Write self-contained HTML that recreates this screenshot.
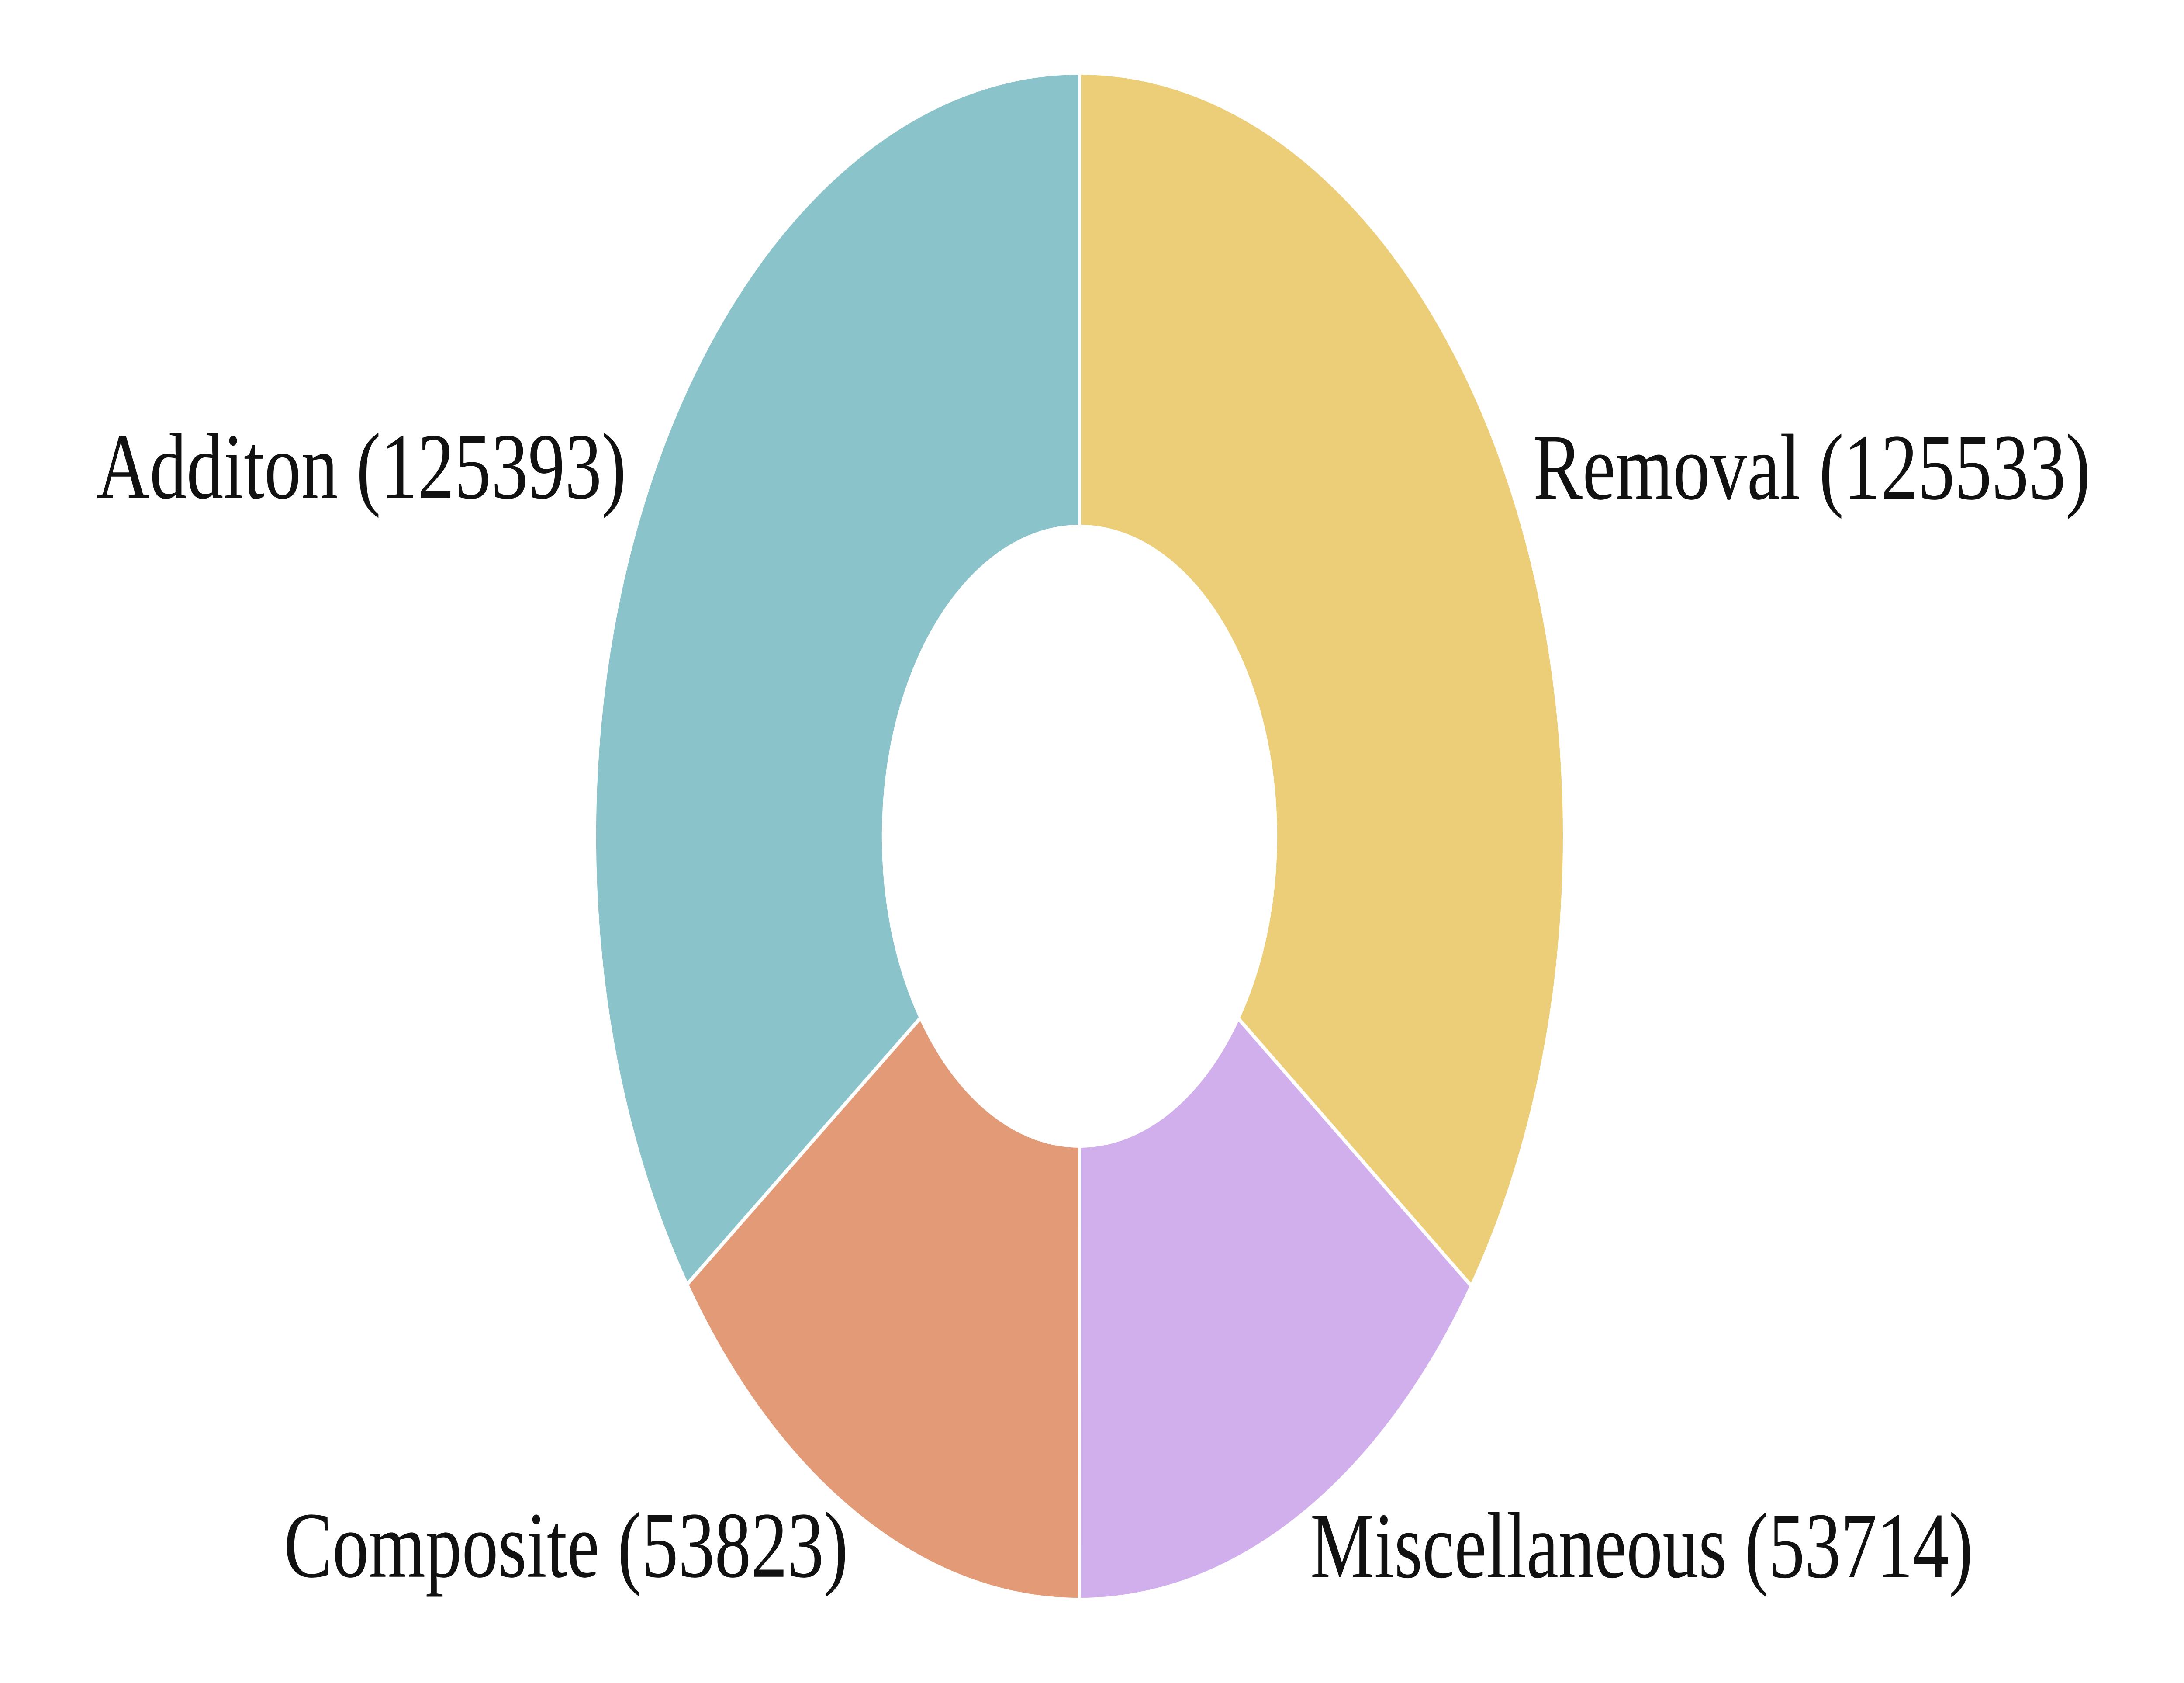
<!DOCTYPE html>
<html><head><meta charset="utf-8"><style>
html,body{margin:0;padding:0;background:#fff;width:100%;height:100%;overflow:hidden;}
svg{display:block;width:100vw;height:100vh;}
text{font-family:"Liberation Serif",serif;font-size:215px;fill:#111;}
</style></head><body>
<svg id="chart" viewBox="0 0 7876 3852" preserveAspectRatio="none" xmlns="http://www.w3.org/2000/svg"></svg>
<script>
const categories = ["Removal", "Miscellaneous", "Composite", "Additon"];
const values = [125533, 53714, 53823, 125393];
const colors = ["#ebce77", "#d0afec", "#e29b76", "#8ac4ca"];
const labelWidths = [2010, 2390, 2035, 1910];

const svg = document.getElementById('chart');
const NS = 'http://www.w3.org/2000/svg';
const cx = 3893, cy = 1914, R = 1748, r = 708;
const total = values.reduce((a,b)=>a+b,0);
function pt(rad, ang){ return [cx + rad*Math.sin(ang), cy - rad*Math.cos(ang)]; }
let a0 = 0;
values.forEach((v,i)=>{
  const a1 = a0 + v/total*2*Math.PI;
  const large = (a1-a0) > Math.PI ? 1 : 0;
  const [x0,y0]=pt(R,a0),[x1,y1]=pt(R,a1),[x2,y2]=pt(r,a1),[x3,y3]=pt(r,a0);
  const p = document.createElementNS(NS,'path');
  p.setAttribute('d',`M${x0},${y0} A${R},${R} 0 ${large} 1 ${x1},${y1} L${x2},${y2} A${r},${r} 0 ${large} 0 ${x3},${y3} Z`);
  p.setAttribute('fill',colors[i]);
  p.setAttribute('stroke','#fff');
  p.setAttribute('stroke-width','10');
  
  
  svg.appendChild(p);
  const mid = (a0+a1)/2;
  const [lx,ly] = pt(R*1.05, mid);
  const t = document.createElementNS(NS,'text');
  t.setAttribute('x',lx);
  t.setAttribute('y',ly + 60);
  t.setAttribute('text-anchor', Math.sin(mid) >= 0 ? 'start' : 'end');
  t.setAttribute('textLength', labelWidths[i]);
  t.setAttribute('lengthAdjust','spacingAndGlyphs');
  t.textContent = categories[i] + ' (' + values[i] + ')';
  
  
  svg.appendChild(t);
  a0 = a1;
});
</script>
</body></html>
